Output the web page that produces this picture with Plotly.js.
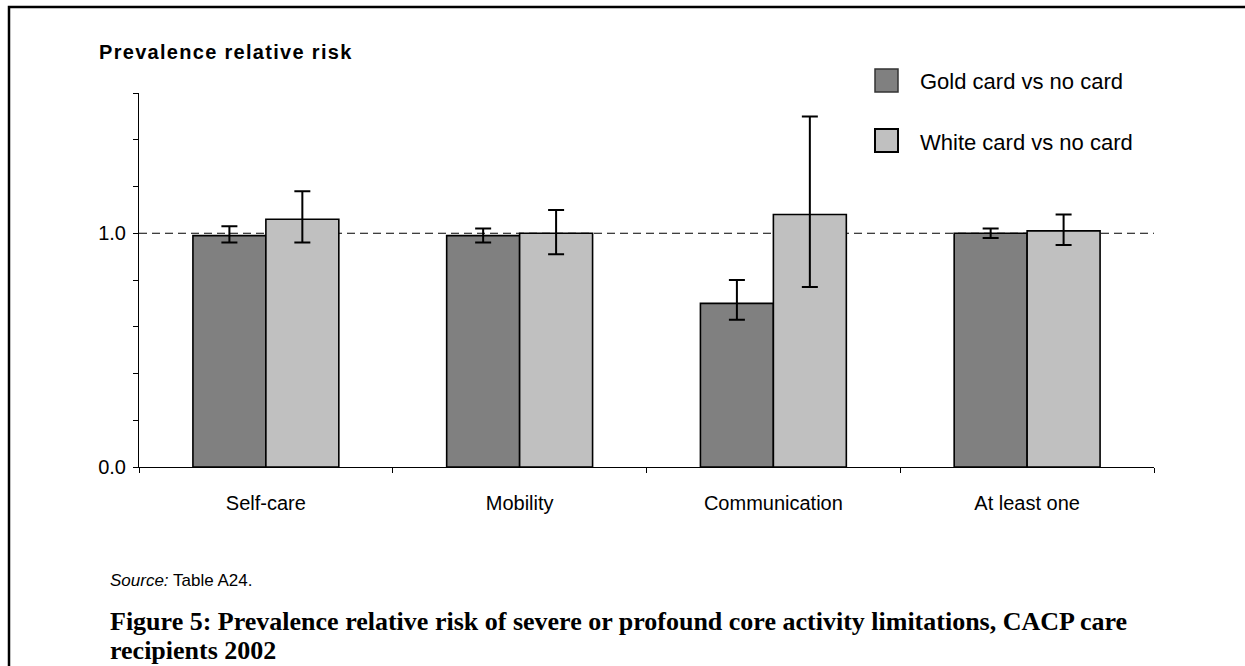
<!DOCTYPE html>
<html>
<head>
<meta charset="utf-8">
<script src="https://cdn.plot.ly/plotly-3.0.1.min.js"></script>
<style>
  html, body { margin: 0; padding: 0; background: #fff; }
  #chart { width: 1245px; height: 666px; }
</style>
</head>
<body>
<div id="chart"></div>
<script>
// ---- data ----
const categories = ["Self-care", "Mobility", "Communication", "At least one"];
const seriesNames = ["Gold card vs no card", "White card vs no card"];
const goldValues = [0.99, 0.99, 0.70, 1.00];
const goldLower  = [0.96, 0.96, 0.63, 0.98];
const goldUpper  = [1.03, 1.02, 0.80, 1.02];
const whiteValues = [1.06, 1.00, 1.08, 1.01];
const whiteLower  = [0.96, 0.91, 0.77, 0.95];
const whiteUpper  = [1.18, 1.10, 1.50, 1.08];
const yTickValues = [0, 0.2, 0.4, 0.6, 0.8, 1.0, 1.2, 1.4, 1.6];
const yTickLabels = ["0.0", "", "", "", "", "1.0", "", "", ""];
const referenceLevel = 1.0;
const yAxisTitle = "Prevalence relative risk";
const sourceText = "<i>Source:</i> Table A24.";
const captionLines = [
  "Figure 5: Prevalence relative risk of severe or profound core activity limitations, CACP care",
  "recipients 2002"
];

// ---- layout geometry (pixels) ----
const W = 1245, H = 666;
const M = { l: 139, r: 91, t: 93, b: 199 };
const PW = W - M.l - M.r, PH = H - M.t - M.b;
const px = x => (x - M.l) / PW;          // pixel x -> paper x
const py = y => (H - M.b - y) / PH;      // pixel y -> paper y

const goldColor = "#808080", whiteColor = "#c0c0c0";
const sans = "Liberation Sans, Arial, sans-serif";
const serif = "Liberation Serif, Times New Roman, serif";

function errTrace(name, vals, lo, hi, color) {
  return {
    type: "bar", name: name, x: categories, y: vals,
    marker: { color: color, line: { color: "#000", width: 1.6 } },
    error_y: {
      type: "data", symmetric: false,
      array: hi.map((h, i) => h - vals[i]),
      arrayminus: lo.map((l, i) => vals[i] - l),
      color: "#000", thickness: 2, width: 8
    },
    showlegend: false, hoverinfo: "skip"
  };
}

const data = [
  errTrace(seriesNames[0], goldValues, goldLower, goldUpper, goldColor),
  errTrace(seriesNames[1], whiteValues, whiteLower, whiteUpper, whiteColor)
];

const shapes = [
  { type: "line", xref: "paper", yref: "y", x0: 0, x1: 1, y0: referenceLevel, y1: referenceLevel,
    line: { color: "#000", width: 1, dash: "8px,5px" }, layer: "below" },
  { type: "rect", xref: "paper", yref: "paper", x0: px(9), x1: px(1300), y0: py(7), y1: py(720),
    line: { color: "#000", width: 2.5 }, fillcolor: "rgba(0,0,0,0)" },
  { type: "rect", xref: "paper", yref: "paper", x0: px(875), x1: px(898), y0: py(69), y1: py(92),
    line: { color: "#333", width: 1.5 }, fillcolor: goldColor },
  { type: "rect", xref: "paper", yref: "paper", x0: px(875), x1: px(898), y0: py(129), y1: py(152),
    line: { color: "#000", width: 2 }, fillcolor: whiteColor }
];

const annotations = [
  { xref: "paper", yref: "paper", x: px(97), y: py(52), xanchor: "left", yanchor: "middle",
    text: '<span style="letter-spacing:1.3px">' + yAxisTitle + '</span>', showarrow: false,
    font: { family: sans, size: 20, color: "#000", weight: "bold" } },
  { xref: "paper", yref: "paper", x: px(918), y: py(81), xanchor: "left", yanchor: "middle",
    text: seriesNames[0], showarrow: false,
    font: { family: sans, size: 22, color: "#000" } },
  { xref: "paper", yref: "paper", x: px(918), y: py(142), xanchor: "left", yanchor: "middle",
    text: seriesNames[1], showarrow: false,
    font: { family: sans, size: 22, color: "#000" } },
  { xref: "paper", yref: "paper", x: px(108), y: py(580), xanchor: "left", yanchor: "middle",
    text: sourceText, showarrow: false,
    font: { family: sans, size: 17, color: "#000" } },
  { xref: "paper", yref: "paper", x: px(108), y: py(621), xanchor: "left", yanchor: "middle",
    text: "<b>" + captionLines[0] + "</b>", showarrow: false, align: "left",
    font: { family: serif, size: 26, color: "#000" } },
  { xref: "paper", yref: "paper", x: px(108), y: py(650), xanchor: "left", yanchor: "middle",
    text: "<b>" + captionLines[1] + "</b>", showarrow: false, align: "left",
    font: { family: serif, size: 26, color: "#000" } }
];

const layout = {
  width: W, height: H,
  margin: M,
  paper_bgcolor: "#fff", plot_bgcolor: "#fff",
  barmode: "group", bargap: 0.425, bargroupgap: 0,
  font: { family: sans, size: 20, color: "#000" },
  xaxis: {
    type: "category", tickson: "boundaries", ticks: "outside", ticklen: 5,
    tickcolor: "#000", tickwidth: 1, showline: true, linecolor: "#000", linewidth: 1,
    showgrid: false, zeroline: false, ticklabelstandoff: 18,
    tickfont: { family: sans, size: 20, color: "#000" },
    fixedrange: true
  },
  yaxis: {
    range: [0, 1.6], tickvals: yTickValues, ticktext: yTickLabels,
    ticks: "outside", ticklen: 5, tickcolor: "#000", tickwidth: 1,
    showline: true, linecolor: "#000", linewidth: 1, showgrid: false, zeroline: false,
    ticklabelstandoff: 3,
    tickfont: { family: sans, size: 20, color: "#000" },
    fixedrange: true
  },
  shapes: shapes,
  annotations: annotations
};

Plotly.newPlot("chart", data, layout, { staticPlot: true, displayModeBar: false });
</script>
</body>
</html>
